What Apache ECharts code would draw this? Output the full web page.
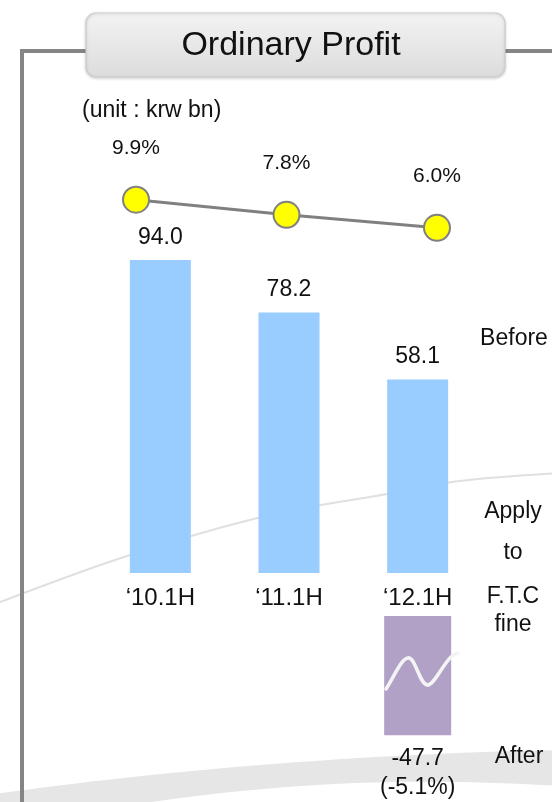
<!DOCTYPE html>
<html>
<head>
<meta charset="utf-8">
<script src="https://cdn.jsdelivr.net/npm/echarts@6/dist/echarts.min.js"></script>
<style>
  html, body { margin: 0; padding: 0; background: #ffffff; }
  #chart { width: 552px; height: 802px; }
</style>
</head>
<body>
<div id="chart"></div>
<script>
// Half-year periods
const categories = ['\u201810.1H', '\u201811.1H', '\u201812.1H'];
// Ordinary profit before the F.T.C fine (krw bn)
const ordinaryProfit = [94.0, 78.2, 58.1];
// Ordinary profit margin (%)
const profitMargin = [9.9, 7.8, 6.0];
// Ordinary profit after applying the F.T.C fine (krw bn) and its margin (%)
const afterFine = [null, null, -47.7];
const afterFineMargin = [null, null, -5.1];
// Texts
const titleText = 'Ordinary Profit';
const unitText = '(unit : krw bn)';
const sideLabels = ['Before', 'Apply', 'to', 'F.T.C', 'fine', 'After'];

const FONT = '"Liberation Sans", Arial, Helvetica, sans-serif';
const INK = '#111111';
const FRAME = '#858585';

const chart = echarts.init(document.getElementById('chart'), null, { renderer: 'canvas' });

// sample a cubic bezier into points (for the decorative swoosh outline)
function cubic(p0, p1, p2, p3, n) {
  const pts = [];
  for (let i = 0; i <= n; i++) {
    const t = i / n, u = 1 - t;
    pts.push([
      u * u * u * p0[0] + 3 * u * u * t * p1[0] + 3 * u * t * t * p2[0] + t * t * t * p3[0],
      u * u * u * p0[1] + 3 * u * u * t * p1[1] + 3 * u * t * t * p2[1] + t * t * t * p3[1]
    ]);
  }
  return pts;
}
const bandOutline = cubic([-5, 794], [150, 772], [350, 754], [560, 750], 30)
  .concat(cubic([560, 786], [420, 778], [250, 776], [-5, 830], 30));

function sideText(text, x, y) {
  return {
    type: 'text', z: 10,
    style: { text: text, x: x, y: y, align: 'center', verticalAlign: 'middle',
             font: '23px ' + FONT, fill: INK }
  };
}

function waveSeg(x1, y1, c1x, c1y, c2x, c2y, x2, y2) {
  return {
    type: 'bezierCurve', z: 20, silent: true,
    shape: { x1: x1, y1: y1, cpx1: c1x, cpy1: c1y, cpx2: c2x, cpy2: c2y, x2: x2, y2: y2 },
    style: { stroke: '#f4f4f4', lineWidth: 3.5, fill: null, lineCap: 'round' }
  };
}

const option = {
  animation: false,
  backgroundColor: '#ffffff',
  grid: [
    { left: 96, right: 70, top: 240, bottom: 229 },   // bars before fine
    { left: 136, right: 115, top: 199, height: 72 },  // margin line
    { left: 96, right: 70, top: 616, height: 125 }    // after fine (broken axis panel)
  ],
  xAxis: [
    {
      type: 'category', gridIndex: 0, data: categories,
      axisLine: { show: false }, axisTick: { show: false },
      axisLabel: { margin: 13, fontSize: 24, color: INK, fontFamily: FONT }
    },
    { type: 'category', gridIndex: 1, data: categories, boundaryGap: false, show: false },
    { type: 'category', gridIndex: 2, data: categories, show: false }
  ],
  yAxis: [
    { type: 'value', gridIndex: 0, min: 0, max: 100, show: false, splitLine: { show: false } },
    { type: 'value', gridIndex: 1, min: 0, max: 10, show: false, splitLine: { show: false } },
    { type: 'value', gridIndex: 2, min: -50, max: 0, show: false, splitLine: { show: false } }
  ],
  series: [
    {
      name: 'Before', type: 'bar', xAxisIndex: 0, yAxisIndex: 0,
      data: ordinaryProfit, barWidth: 61, z: 3,
      itemStyle: { color: '#99ccff' },
      label: {
        show: true, position: 'top', distance: 11,
        fontSize: 23, color: INK, fontFamily: FONT,
        formatter: p => p.value.toFixed(1)
      }
    },
    {
      name: 'After', type: 'bar', xAxisIndex: 2, yAxisIndex: 2,
      data: afterFine, barWidth: 67, z: 3,
      itemStyle: { color: '#b2a1c7' },
      label: {
        show: true, position: 'bottom', distance: 9,
        fontSize: 23, lineHeight: 29, color: INK, fontFamily: FONT, align: 'center',
        formatter: p => p.value.toFixed(1) + '\n(' + afterFineMargin[p.dataIndex].toFixed(1) + '%)'
      }
    },
    {
      name: 'Margin', type: 'line', xAxisIndex: 1, yAxisIndex: 1,
      data: profitMargin, z: 5,
      lineStyle: { color: '#808080', width: 3 },
      symbol: 'circle', symbolSize: 26,
      itemStyle: { color: '#ffff00', borderColor: '#808080', borderWidth: 2 },
      label: {
        show: true, position: 'top', distance: 27,
        fontSize: 21, color: INK, fontFamily: FONT,
        formatter: p => p.value.toFixed(1) + '%'
      }
    }
  ],
  graphic: [
    // background swooshes
    {
      type: 'polygon', z: -10, silent: true,
      shape: { points: bandOutline },
      style: { fill: '#e6e6e6' }
    },
    {
      type: 'polyline', z: -10, silent: true,
      shape: { points: [[-5, 604], [130, 555], [266, 516], [387, 494], [460, 481], [560, 473]], smooth: 0.35 },
      style: { stroke: '#e0e0e0', lineWidth: 2, fill: null }
    },
    // frame
    {
      type: 'polyline', z: -5, silent: true,
      shape: { points: [[22, 810], [22, 51], [90, 51]] },
      style: { stroke: FRAME, lineWidth: 4, fill: null }
    },
    {
      type: 'line', z: -5, silent: true,
      shape: { x1: 500, y1: 51, x2: 560, y2: 51 },
      style: { stroke: FRAME, lineWidth: 4 }
    },
    // title box
    {
      type: 'rect', z: 1, silent: true,
      shape: { x: 86, y: 13, width: 419, height: 64, r: 10 },
      style: {
        fill: new echarts.graphic.LinearGradient(0, 0, 0, 1, [
          { offset: 0, color: '#f3f3f3' },
          { offset: 1, color: '#dcdcdc' }
        ]),
        stroke: '#cdcdcd', lineWidth: 1.2,
        shadowBlur: 3, shadowOffsetY: 1, shadowColor: 'rgba(0,0,0,0.18)'
      }
    },
    {
      type: 'text', z: 2,
      style: { text: titleText, x: 291, y: 46, align: 'center', verticalAlign: 'middle',
               font: '34px ' + FONT, fill: INK }
    },
    {
      type: 'text', z: 2,
      style: { text: unitText, x: 82, y: 111, align: 'left', verticalAlign: 'middle',
               font: '23px ' + FONT, fill: INK }
    },
    // wave on the broken bar
    waveSeg(386, 689, 395, 675, 402, 657, 409, 658),
    waveSeg(409, 658, 416, 659, 420, 686, 428, 685),
    waveSeg(428, 685, 436, 684, 446, 655, 458, 653),
    // side labels
    sideText(sideLabels[0], 514, 339),
    sideText(sideLabels[1], 513, 512),
    sideText(sideLabels[2], 513, 553),
    sideText(sideLabels[3], 513, 597),
    sideText(sideLabels[4], 513, 625),
    sideText(sideLabels[5], 519, 757)
  ]
};

chart.setOption(option);
</script>
</body>
</html>
